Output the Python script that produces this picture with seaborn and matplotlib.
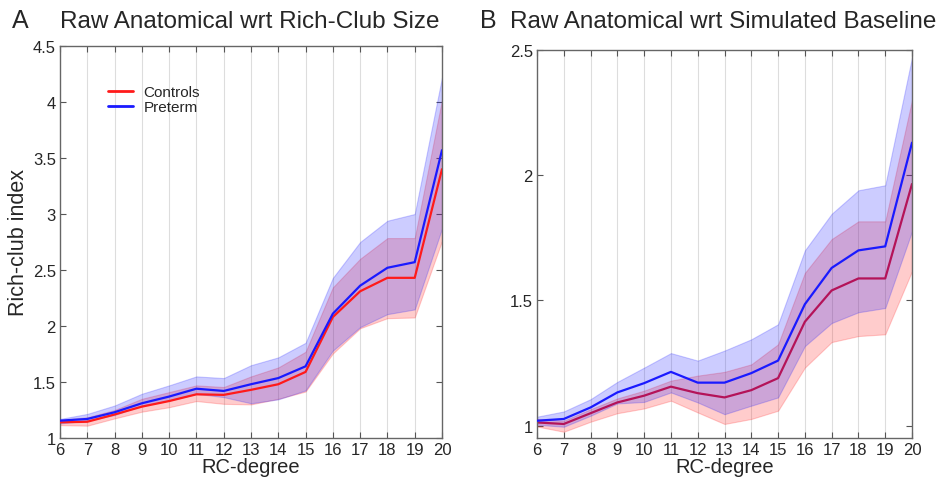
import numpy as np
import pandas as pd
import seaborn as sns
import matplotlib.pyplot as plt

# RC-degree on x
degree = list(range(6, 21))

# panel A: raw anatomical wrt rich-club size
ctrl_mean_A = [1.14, 1.145, 1.21, 1.28, 1.33, 1.39, 1.385, 1.43, 1.48, 1.59, 2.08, 2.31, 2.43, 2.43, 3.40]
ctrl_lo_A = [1.115, 1.11, 1.175, 1.235, 1.275, 1.33, 1.305, 1.30, 1.35, 1.415, 1.755, 1.98, 2.07, 2.076, 2.76]
ctrl_hi_A = [1.16, 1.185, 1.25, 1.35, 1.41, 1.47, 1.455, 1.55, 1.63, 1.77, 2.345, 2.6, 2.785, 2.785, 4.02]
pre_mean_A = [1.155, 1.17, 1.23, 1.31, 1.37, 1.44, 1.42, 1.48, 1.535, 1.64, 2.11, 2.36, 2.52, 2.57, 3.57]
pre_lo_A = [1.13, 1.155, 1.205, 1.29, 1.335, 1.395, 1.365, 1.31, 1.345, 1.425, 1.78, 1.99, 2.106, 2.148, 2.87]
pre_hi_A = [1.17, 1.215, 1.29, 1.395, 1.47, 1.55, 1.535, 1.65, 1.72, 1.85, 2.43, 2.75, 2.94, 3.0, 4.22]

# panel B: raw anatomical wrt simulated baseline
ctrl_mean_B = [1.013, 1.007, 1.05, 1.093, 1.12, 1.156, 1.13, 1.113, 1.142, 1.19, 1.415, 1.54, 1.588, 1.588, 1.965]
ctrl_lo_B = [0.997, 0.976, 1.016, 1.05, 1.069, 1.10, 1.053, 1.007, 1.027, 1.06, 1.232, 1.334, 1.358, 1.365, 1.617]
ctrl_hi_B = [1.027, 1.02, 1.066, 1.109, 1.14, 1.18, 1.20, 1.215, 1.245, 1.325, 1.61, 1.745, 1.816, 1.816, 2.30]
pre_mean_B = [1.02, 1.027, 1.073, 1.133, 1.17, 1.215, 1.172, 1.172, 1.21, 1.26, 1.485, 1.63, 1.70, 1.716, 2.13]
pre_lo_B = [1.004, 0.996, 1.04, 1.089, 1.095, 1.133, 1.093, 1.046, 1.08, 1.113, 1.318, 1.41, 1.453, 1.47, 1.776]
pre_hi_B = [1.036, 1.057, 1.106, 1.175, 1.232, 1.29, 1.26, 1.30, 1.345, 1.405, 1.70, 1.846, 1.94, 1.96, 2.47]

groups = ["Controls", "Preterm"]
colors = {"Controls": "#ff1a1a", "Preterm": "#1a1aff"}

sns.set_style("ticks")
plt.rcParams['font.family'] = ['Liberation Sans', 'DejaVu Sans']
plt.rcParams['xtick.direction'] = 'in'
plt.rcParams['ytick.direction'] = 'in'
plt.rcParams['xtick.top'] = True
plt.rcParams['ytick.right'] = True

fig = plt.figure(figsize=(9.41, 4.81), dpi=100)
axA = fig.add_axes([60 / 941, 1 - 439 / 481, 382 / 941, 392 / 481])
axB = fig.add_axes([537 / 941, 1 - 439 / 481, 375 / 941, 388 / 481])


def make_df(ctrl, pre):
    return pd.DataFrame({
        "degree": degree * 2,
        "value": ctrl + pre,
        "group": ["Controls"] * len(degree) + ["Preterm"] * len(degree),
    })


def draw(ax, ctrl, pre, bands, red_on_top):
    df = make_df(ctrl, pre)
    for g, (lo, hi) in zip(groups, bands):
        ax.fill_between(degree, lo, hi, color=colors[g], alpha=0.22, lw=0.8,
                        edgecolor=colors[g], zorder=1)
    sns.lineplot(data=df, x="degree", y="value", hue="group", hue_order=groups,
                 palette=colors, lw=1.6, ax=ax, zorder=3, legend=True)
    if not red_on_top:
        # in panel B the controls line sits below the preterm band
        ax.lines[0].set_zorder(0.5)
        ax.lines[0].set_color("#d81030")
    ax.set_xlim(6, 20)
    ax.set_xticks(degree)
    for x in degree[1:-1]:
        ax.axvline(x, color="#dddddd", lw=0.8, zorder=0)
    ax.set_xlabel("RC-degree", fontsize=14.5, labelpad=0)
    ax.tick_params(labelsize=12, length=4, color="#555555", pad=3)
    for s in ax.spines.values():
        s.set_color("#666666")
        s.set_linewidth(1.0)


draw(axA, ctrl_mean_A, pre_mean_A,
     [(ctrl_lo_A, ctrl_hi_A), (pre_lo_A, pre_hi_A)], True)
axA.set_ylim(1, 4.5)
axA.set_yticks([1, 1.5, 2, 2.5, 3, 3.5, 4, 4.5])
axA.set_yticklabels(["1", "1.5", "2", "2.5", "3", "3.5", "4", "4.5"])
axA.set_ylabel("Rich-club index", fontsize=15.5, labelpad=3)
leg = axA.legend(loc="upper left", bbox_to_anchor=(0.11, 0.915), frameon=False,
                 fontsize=11, handlelength=1.6, handletextpad=0.7,
                 labelspacing=0.05, borderaxespad=0)
for line in leg.get_lines():
    line.set_linewidth(2)

draw(axB, ctrl_mean_B, pre_mean_B,
     [(ctrl_lo_B, ctrl_hi_B), (pre_lo_B, pre_hi_B)], False)
axB.set_ylim(0.951, 2.5)
axB.set_yticks([1, 1.5, 2, 2.5])
axB.set_yticklabels(["1", "1.5", "2", "2.5"])
axB.set_ylabel("")
axB.get_legend().remove()

fs_title = 17.5
fig.text(12 / 941, 1 - 28 / 481, "A", fontsize=fs_title + 0.5, va="baseline", ha="left")
fig.text(60 / 941, 1 - 28 / 481, "Raw Anatomical wrt Rich-Club Size",
         fontsize=fs_title, va="baseline", ha="left")
fig.text(480 / 941, 1 - 28 / 481, "B", fontsize=fs_title + 0.5, va="baseline", ha="left")
fig.text(510 / 941, 1 - 28 / 481, "Raw Anatomical wrt Simulated Baseline",
         fontsize=fs_title, va="baseline", ha="left")

fig.savefig("out.png", dpi=100)
